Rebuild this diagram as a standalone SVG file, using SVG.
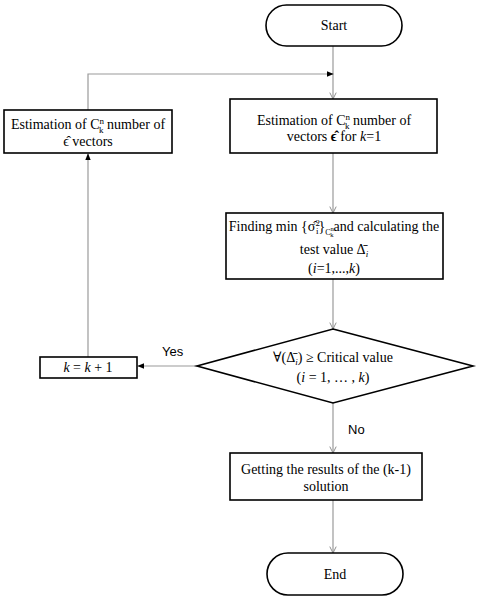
<svg xmlns="http://www.w3.org/2000/svg" width="478" height="600" viewBox="0 0 478 600">
<defs>
<marker id="open" viewBox="0 0 10 10" refX="9" refY="5" markerWidth="8" markerHeight="8" orient="auto" markerUnits="userSpaceOnUse">
<path d="M1,1 L9,5 L1,9" fill="none" stroke="#8a8a8a" stroke-width="1.2"/>
</marker>
<marker id="fill" viewBox="0 0 10 10" refX="9" refY="5" markerWidth="7" markerHeight="7" orient="auto" markerUnits="userSpaceOnUse">
<path d="M0,1 L10,5 L0,9 Z" fill="#000"/>
</marker>
<style>
.box{fill:#fff;stroke:#000;stroke-width:1.6}
.conn{fill:none;stroke:#9a9a9a;stroke-width:1.2}
.t{font-family:"Liberation Serif","DejaVu Serif",serif;font-size:14px;fill:#000;text-anchor:middle}
.s{font-family:"Liberation Sans","Open Sans",sans-serif;font-size:13px;fill:#000}
.sm{font-size:9px}
</style>
</defs>
<rect width="478" height="600" fill="#fff"/>
<g id="connectors">
<line class="conn" x1="333" y1="46" x2="333" y2="99" marker-end="url(#open)"/>
<line class="conn" x1="333" y1="153" x2="333" y2="213" marker-end="url(#open)"/>
<line class="conn" x1="333" y1="279" x2="333" y2="329" marker-end="url(#open)"/>
<line class="conn" x1="333" y1="403" x2="333" y2="453" marker-end="url(#open)"/>
<line class="conn" x1="333" y1="500" x2="333" y2="553" marker-end="url(#open)"/>
<line class="conn" x1="197" y1="366" x2="138" y2="366" marker-end="url(#fill)"/>
<line class="conn" x1="88" y1="357" x2="88" y2="154" marker-end="url(#fill)"/>
<polyline class="conn" points="88,110 88,74 333,74" marker-end="url(#fill)"/>
<text class="s" x="162" y="356">Yes</text>
<text class="s" x="348" y="434">No</text>
</g>
<g id="start">
<rect class="box" x="266" y="5" width="136" height="41" rx="20.5"/>
<text class="t" x="334" y="30">Start</text>
</g>
<g id="estimate1">
<rect class="box" x="230" y="99" width="207" height="54"/>
<text class="t" x="334" y="125">Estimation of C<tspan class="sm" dy="-5">n</tspan><tspan class="sm" dx="-5" dy="9">k</tspan><tspan dy="-4"> number of</tspan></text>
<text class="t" x="334" y="141">vectors <tspan font-weight="bold">ϵ̂</tspan> for <tspan font-style="italic">k</tspan>=1</text>
</g>
<g id="finding">
<rect class="box" x="226" y="213" width="217" height="66"/>
<text class="t" x="334" y="231" font-size="13.2">Finding min {σ̂<tspan class="sm" dy="-5">2</tspan><tspan class="sm" dx="-4" dy="8">i</tspan><tspan dy="-3">}</tspan><tspan font-size="8" dy="4">C</tspan><tspan font-size="6.5" dy="-4">n</tspan><tspan font-size="6.5" dx="-3.5" dy="6">k</tspan><tspan dy="-6">and calculating the</tspan></text>
<text class="t" x="334" y="254">test value Δ̄<tspan class="sm" font-style="italic" dy="3">i</tspan></text>
<text class="t" x="334" y="273">(<tspan font-style="italic">i</tspan>=1,...,<tspan font-style="italic">k</tspan>)</text>
</g>
<g id="decision">
<polygon class="box" points="333,329 473,366 333,403 197,366"/>
<text class="t" x="333" y="362">∀(Δ̄<tspan class="sm" font-style="italic" dy="3">i</tspan><tspan dy="-3">)  ≥ Critical value</tspan></text>
<text class="t" x="333" y="382">(<tspan font-style="italic">i</tspan> = 1, … , <tspan font-style="italic">k</tspan>)</text>
</g>
<g id="increment">
<rect class="box" x="40" y="357" width="97" height="21"/>
<text class="t" x="88" y="372"><tspan font-style="italic">k</tspan> = <tspan font-style="italic">k</tspan> + 1</text>
</g>
<g id="estimate2">
<rect class="box" x="4" y="110" width="168" height="43"/>
<text class="t" x="88" y="129">Estimation of C<tspan class="sm" dy="-5">n</tspan><tspan class="sm" dx="-5" dy="9">k</tspan><tspan dy="-4"> number of</tspan></text>
<text class="t" x="88" y="146">ϵ̂  vectors</text>
</g>
<g id="results">
<rect class="box" x="230" y="453" width="192" height="47"/>
<text class="t" x="326" y="474">Getting the results of the (k-1)</text>
<text class="t" x="326" y="491">solution</text>
</g>
<g id="end">
<rect class="box" x="267" y="553" width="136" height="42" rx="21"/>
<text class="t" x="335" y="579">End</text>
</g>
</svg>
